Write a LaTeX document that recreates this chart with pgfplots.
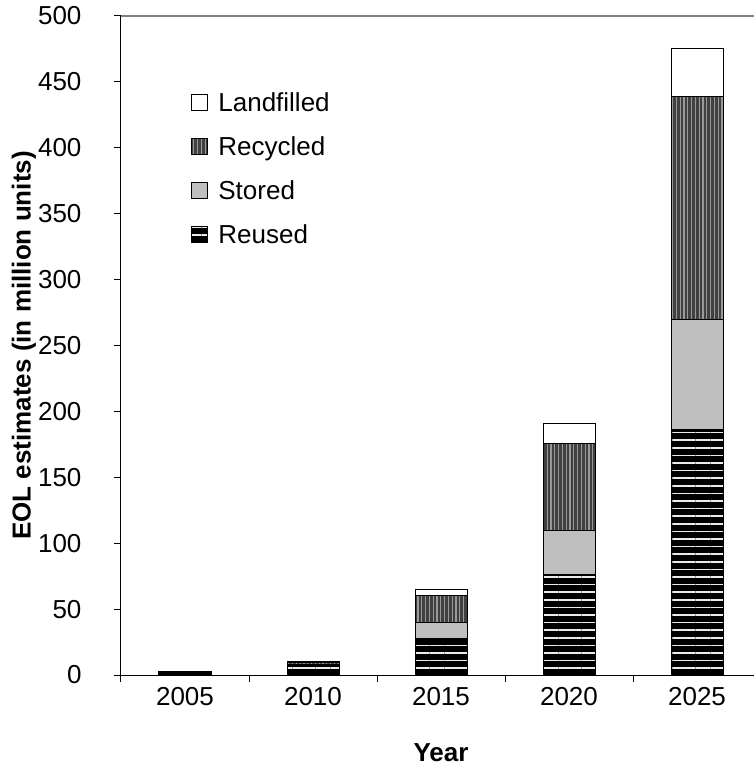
\documentclass[border=0pt]{standalone}
\usepackage{pgfplots}
\pgfplotsset{compat=1.18}
\usepackage{fontspec}
\setmainfont{Liberation Sans}
\usetikzlibrary{patterns.meta}
\begin{document}
\begin{tikzpicture}
\useasboundingbox (-121pt,-92pt) rectangle (632pt,675pt);
\begin{axis}[
  at={(0,0)}, anchor=south west,
  scale only axis, width=640pt, height=659pt,
  ybar stacked, bar width=52pt,
  xmin=-0.5, xmax=4.5, ymin=0, ymax=500,
  enlargelimits=false,
  ytick={0,50,...,500},
  xtick={-0.5,0.5,1.5,2.5,3.5,4.5},
  x tick label as interval,
  xticklabels={2005,2010,2015,2020,2025},
  axis lines=left,
  axis line style={-, black, line width=1pt},
  tick style={black, line width=1pt},
  tick align=outside,
  major tick length=7pt,
  ytick pos=left, xtick pos=bottom,
  /pgf/number format/assume math mode=true,
  tick label style={font=\fontsize{26}{30}\selectfont},
  xticklabel style={yshift=-2pt},
  yticklabel style={xshift=-29pt},
  xlabel={\bfseries Year},
  ylabel={\bfseries EOL estimates (in million units)},
  label style={font=\fontsize{26}{30}\selectfont},
  xlabel style={at={(axis description cs:0.5,0)}, yshift=-78pt, anchor=center},
  ylabel style={at={([xshift=-97pt]axis description cs:0,0.5)}, anchor=center},
  legend image code/.code={\draw[#1, line width=1pt] (0pt,-8pt) rectangle (16pt,8pt); \node[inner sep=0pt, minimum size=0pt, draw=none, fill=none] at (24pt,0pt) {};},
  reverse legend,
  legend cell align=left,
  legend style={draw=none, fill=none, at={(0.105,0.89)}, anchor=north west,
    font=\fontsize{26}{30}\selectfont, row sep=19.5pt},
  every axis plot/.append style={draw=black, line width=1pt},
]
\addplot[fill=black, postaction={pattern={Lines[angle=0,distance=7.6pt,line width=1.6pt]}, pattern color=black!8}]
  coordinates {(0,2.5) (1,7) (2,28) (3,76.5) (4,186)};
\addlegendentry{Reused}
\addplot[fill=black!25]
  coordinates {(0,0.2) (1,1) (2,12) (3,33.5) (4,84)};
\addlegendentry{Stored}
\addplot[fill=black!75, postaction={pattern={Lines[angle=90,distance=3.8pt,line width=1.3pt]}, pattern color=black!40}]
  coordinates {(0,0.2) (1,1.5) (2,20) (3,66) (4,169)};
\addlegendentry{Recycled}
\addplot[fill=white]
  coordinates {(0,0.1) (1,0.5) (2,4.5) (3,14.5) (4,36.5)};
\addlegendentry{Landfilled}
\draw[black!50, line width=1.5pt] (rel axis cs:0,1) -- (rel axis cs:1,1);
\end{axis}
\end{tikzpicture}
\end{document}
